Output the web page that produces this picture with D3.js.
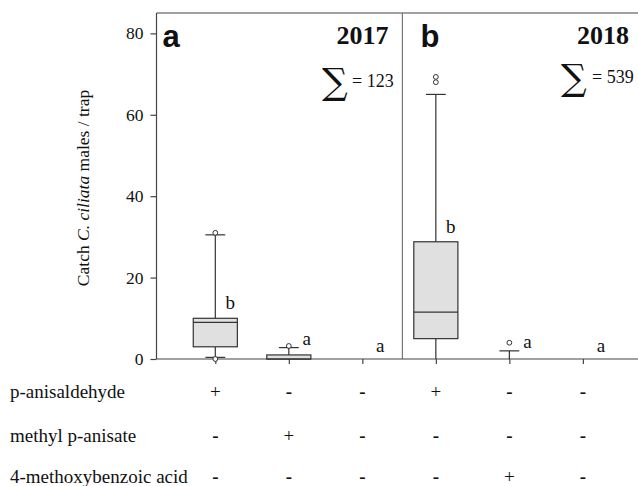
<!DOCTYPE html>
<html>
<head>
<meta charset="utf-8">
<script src="https://cdn.jsdelivr.net/npm/d3@7"></script>
<style>
  html, body { margin: 0; padding: 0; background: #fff; }
  svg { display: block; }
</style>
</head>
<body>
<svg id="chart" width="638" height="486"></svg>
<script>
// ---- data ----
const positions   = [1, 2, 3, 4, 5, 6];
const q1          = [3, 0, 0, 5, 0, 0];
const medians     = [9, 0, 0, 11.5, 0, 0];
const q3          = [10, 1, 0, 28.8, 0, 0];
const whiskerLow  = [0.4, 0, 0, 0, 0, 0];
const whiskerHigh = [30.5, 2.8, 0, 65, 2, 0];
const outliers    = [[0, 31], [3.2], [], [68, 69.3], [4], []];
const sigLetters  = ["b", "a", "a", "b", "a", "a"];
const panelLetters = ["a", "b"];
const years       = ["2017", "2018"];
const totals      = [123, 539];
const panelStart  = [0.2, 3.545];
const panelEnd    = [3.545, 6.75];
const yTicks      = [0, 20, 40, 60, 80];
const compounds   = ["p-anisaldehyde", "methyl p-anisate", "4-methoxybenzoic acid"];
const treatments  = [
  ["+", "-", "-", "+", "-", "-"],
  ["-", "+", "-", "-", "-", "-"],
  ["-", "-", "-", "-", "+", "-"]
];

const SERIF = "'Liberation Serif', 'Times New Roman', Times, serif";
const SANS = "'Liberation Sans', Arial, Helvetica, sans-serif";

// ---- scales ----
const svg = d3.select("#chart");
const x = d3.scaleLinear().domain([0.2, 6.75]).range([156.5, 638]);
const y = d3.scaleLinear().domain([0, 85]).range([359, 13]);
const boxW = x(0.6) - x(0);
const capW = x(0.27) - x(0);
const axisColor = "#444";

function txt(sel, size, fam) {
  return sel.style("font-family", fam || SERIF).style("font-size", size + "px").style("fill", "#111");
}

// frame: top border, divider
svg.append("line").attr("x1", x(0.2)).attr("x2", x(6.75))
  .attr("y1", y(85)).attr("y2", y(85)).attr("stroke", axisColor).attr("stroke-width", 1.2);
svg.append("line").attr("x1", x(panelEnd[0])).attr("x2", x(panelEnd[0]))
  .attr("y1", y(85)).attr("y2", y(0)).attr("stroke", "#777").attr("stroke-width", 1.2);

// y axis
const yAxis = d3.axisLeft(y).tickValues(yTicks).tickSize(6).tickPadding(7);
const gy = svg.append("g").attr("transform", `translate(${x(0.2)},0)`).call(yAxis);
gy.selectAll(".domain").attr("stroke", axisColor).attr("stroke-width", 1.2).attr("d", `M0,${y(85)}V${y(0)}`);
gy.selectAll(".tick line").attr("stroke", axisColor).attr("stroke-width", 1.2);
txt(gy.selectAll(".tick text"), 17.5);

// x axis
const xAxis = d3.axisBottom(x).tickValues(positions).tickSize(5).tickFormat("");
const gx = svg.append("g").attr("transform", `translate(0,${y(0)})`).call(xAxis);
gx.select(".domain").attr("stroke", axisColor).attr("stroke-width", 1.2).attr("d", `M${x(0.2)},0H${x(6.75)}`);
gx.selectAll(".tick line").attr("stroke", axisColor).attr("stroke-width", 1.2);

// y label
const yl = txt(svg.append("text"), 17.5)
  .attr("transform", `translate(89,${(y(0) + y(85)) / 2 + 2}) rotate(-90)`)
  .attr("text-anchor", "middle");
yl.append("tspan").text("Catch ");
yl.append("tspan").style("font-style", "italic").text("C. ciliata");
yl.append("tspan").text(" males / trap");

// boxes
const boxes = svg.append("g");
positions.forEach((p, i) => {
  const cx = x(p);
  const g = boxes.append("g");
  const stroke = "#333";
  if (whiskerHigh[i] > q3[i]) {
    g.append("line").attr("x1", cx).attr("x2", cx).attr("y1", y(q3[i])).attr("y2", y(whiskerHigh[i]))
      .attr("stroke", stroke).attr("stroke-width", 1.2);
    g.append("line").attr("x1", cx - capW / 2).attr("x2", cx + capW / 2)
      .attr("y1", y(whiskerHigh[i])).attr("y2", y(whiskerHigh[i])).attr("stroke", stroke).attr("stroke-width", 1.2);
  }
  if (whiskerLow[i] < q1[i]) {
    g.append("line").attr("x1", cx).attr("x2", cx).attr("y1", y(q1[i])).attr("y2", y(whiskerLow[i]))
      .attr("stroke", stroke).attr("stroke-width", 1.2);
    if (whiskerLow[i] > 0) {
      g.append("line").attr("x1", cx - capW / 2).attr("x2", cx + capW / 2)
        .attr("y1", y(whiskerLow[i])).attr("y2", y(whiskerLow[i])).attr("stroke", stroke).attr("stroke-width", 1.2);
    }
  }
  if (q3[i] > q1[i]) {
    g.append("rect").attr("x", cx - boxW / 2).attr("width", boxW)
      .attr("y", y(q3[i])).attr("height", y(q1[i]) - y(q3[i]))
      .attr("fill", "#e0e0e0").attr("stroke", stroke).attr("stroke-width", 1.2);
    g.append("line").attr("x1", cx - boxW / 2).attr("x2", cx + boxW / 2)
      .attr("y1", y(medians[i])).attr("y2", y(medians[i])).attr("stroke", stroke).attr("stroke-width", 1.2);
  }
  outliers[i].forEach(v => {
    g.append("circle").attr("cx", cx).attr("cy", y(v)).attr("r", 2.4)
      .attr("fill", "#fff").attr("stroke", stroke).attr("stroke-width", 1);
  });
  const big = whiskerHigh[i] > 20;
  const ly = big ? y(q3[i]) - 9 : Math.min(y(whiskerHigh[i]) - 3, y(0) - 7);
  txt(svg.append("text"), 19).attr("x", cx + (big ? 15 : 18)).attr("y", ly)
    .attr("text-anchor", "middle").text(sigLetters[i]);
});

// panel annotations
panelLetters.forEach((L, k) => {
  txt(svg.append("text"), 31, SANS).style("font-weight", "bold")
    .attr("x", x(panelStart[k]) + (k === 0 ? 6 : 18)).attr("y", 46.5).text(L);
  const right = x(panelEnd[k]);
  txt(svg.append("text"), 26).style("font-weight", "bold")
    .attr("x", k === 0 ? right - 14 : right - 9).attr("y", 43.5)
    .attr("text-anchor", "end").text(years[k]);
  const sx = k === 0 ? 322 : 561;
  const sy = k === 0 ? 94 : 90;
  txt(svg.append("text"), 36, "'DejaVu Serif', serif").style("font-weight", "normal")
    .attr("x", sx).attr("y", sy).text("∑");
  txt(svg.append("text"), 18).attr("x", sx + (k === 0 ? 30 : 31)).attr("y", sy - 7).text("= " + totals[k]);
});

// treatment table
const rowY = [398, 442, 483];
compounds.forEach((c, r) => {
  txt(svg.append("text"), 19).attr("x", 10).attr("y", rowY[r]).text(c);
  treatments[r].forEach((s, j) => {
    txt(svg.append("text"), 19).style("font-weight", s === "-" ? "bold" : "normal")
      .attr("x", x(positions[j])).attr("y", rowY[r])
      .attr("text-anchor", "middle").text(s);
  });
});
</script>
</body>
</html>
